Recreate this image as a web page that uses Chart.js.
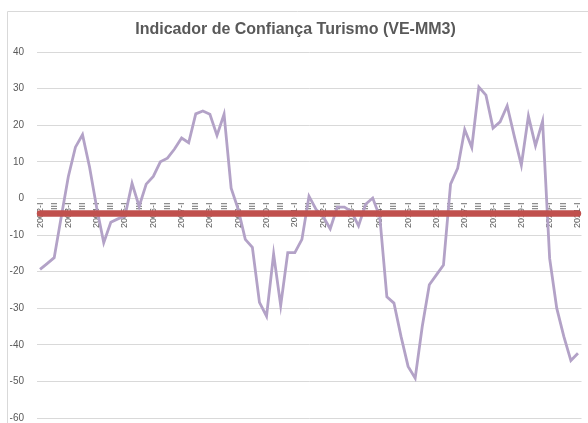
<!DOCTYPE html>
<html>
<head>
<meta charset="utf-8">
<script src="https://cdn.jsdelivr.net/npm/chart.js@4"></script>
<style>
  html, body { margin: 0; padding: 0; background: #fff; }
</style>
</head>
<body>
<canvas id="myChart" width="588" height="423"></canvas>
<script>
const quarterLabels = [
  "2002-I", "II", "III", "IV", "2003-I", "II", "III", "IV",
  "2004-I", "II", "III", "IV", "2005-I", "II", "III", "IV",
  "2006-I", "II", "III", "IV", "2007-I", "II", "III", "IV",
  "2008-I", "II", "III", "IV", "2009-I", "II", "III", "IV",
  "2010-I", "II", "III", "IV", "2011-I", "II", "III", "IV",
  "2012-I", "II", "III", "IV", "2013-I", "II", "III", "IV",
  "2014-I", "II", "III", "IV", "2015-I", "II", "III", "IV",
  "2016-I", "II", "III", "IV", "2017-I", "II", "III", "IV",
  "2018-I", "II", "III", "IV", "2019-I", "II", "III", "IV",
  "2020-I", "II", "III", "IV", "2021-I"
];

const confiancaValues = [
  -19.4, -17.8, -16.2, -5, 6, 14, 17.4, 8.5,
  -2.5, -12.1, -6.5, -5.6, -4.8, 4.1, -2.2, 3.9,
  6, 10, 11, 13.5, 16.5, 15.2, 23.1, 23.9,
  23, 17.2, 23, 2.8, -3, -11.2, -13.4, -28.4,
  -32.2, -15.2, -29.3, -14.8, -14.8, -11.2, 0.6, -3,
  -5, -8.3, -2.4, -2.4, -3.6, -7.5, -1.6, 0.1,
  -5, -26.9, -28.6, -37.7, -45.9, -49.1, -35, -23.6,
  -20.9, -18.2, 3.9, 8.2, 18.8, 13.9, 30.4, 28.2,
  19.2, 20.9, 25.3, 17, 9.1, 22.5, 14.4, 21.1,
  -16.4, -30, -37.7, -44.3, -42.3
];

const mediaValue = -4.1;

const frame = {
  id: "frame",
  beforeDraw(chart) {
    const c = chart.ctx;
    c.save();
    c.strokeStyle = "#D9D9D9";
    c.lineWidth = 1;
    c.beginPath();
    c.moveTo(7.5, 423);
    c.lineTo(7.5, 11.5);
    c.lineTo(588, 11.5);
    c.stroke();
    c.restore();
  }
};

Chart.defaults.font.family = "'Liberation Sans', Arial, sans-serif";
Chart.defaults.color = "#595959";

let myChart = document.getElementById("myChart").getContext("2d");

let lineChart = new Chart(myChart, {
  type: "line",
  data: {
    labels: quarterLabels,
    datasets: [
      {
        label: "Média",
        data: [
          { x: quarterLabels[0], y: mediaValue },
          { x: quarterLabels[quarterLabels.length - 1], y: mediaValue }
        ],
        borderColor: "#C0504D",
        backgroundColor: "#C0504D",
        borderWidth: 6.5,
        borderCapStyle: "round",
        pointRadius: 0,
        tension: 0
      },
      {
        label: "Indicador de Confiança Turismo",
        data: confiancaValues,
        borderColor: "#B3A2C7",
        backgroundColor: "#B3A2C7",
        borderWidth: 2.8,
        pointRadius: 0,
        tension: 0
      }
    ]
  },
  options: {
    responsive: false,
    animation: false,
    devicePixelRatio: 1,
    layout: { padding: { left: 9.5, right: 6.5, top: 10, bottom: 5 } },
    plugins: {
      legend: { display: false },
      tooltip: { enabled: false },
      title: {
        display: true,
        text: "Indicador de Confiança Turismo (VE-MM3)",
        color: "#595959",
        font: { size: 16, weight: "bold" },
        padding: { top: 10.4, bottom: 12.4 }
      }
    },
    scales: {
      x: {
        position: { y: 0 },
        offset: true,
        grid: { display: false, drawTicks: false },
        border: { display: false },
        ticks: {
          autoSkip: false,
          minRotation: 90,
          maxRotation: 90,
          padding: 4,
          font: { size: 9 },
          callback: function (value, index) {
            return index % 2 === 0 ? this.getLabelForValue(value) : "";
          }
        },
        afterFit: (scale) => {
          scale.height = 0;
          scale.paddingLeft = 0;
          scale.paddingRight = 0;
          scale.paddingTop = 0;
          scale.paddingBottom = 0;
        }
      },
      y: {
        min: -60,
        max: 40,
        ticks: { stepSize: 10, padding: 12.5, font: { size: 10 } },
        grid: { color: "#D9D9D9", drawTicks: false },
        border: { display: false },
        afterFit: (scale) => {
          scale.width = 27;
          scale.paddingTop = 0;
          scale.paddingBottom = 0;
        }
      }
    }
  },
  plugins: [frame]
});
</script>
</body>
</html>
